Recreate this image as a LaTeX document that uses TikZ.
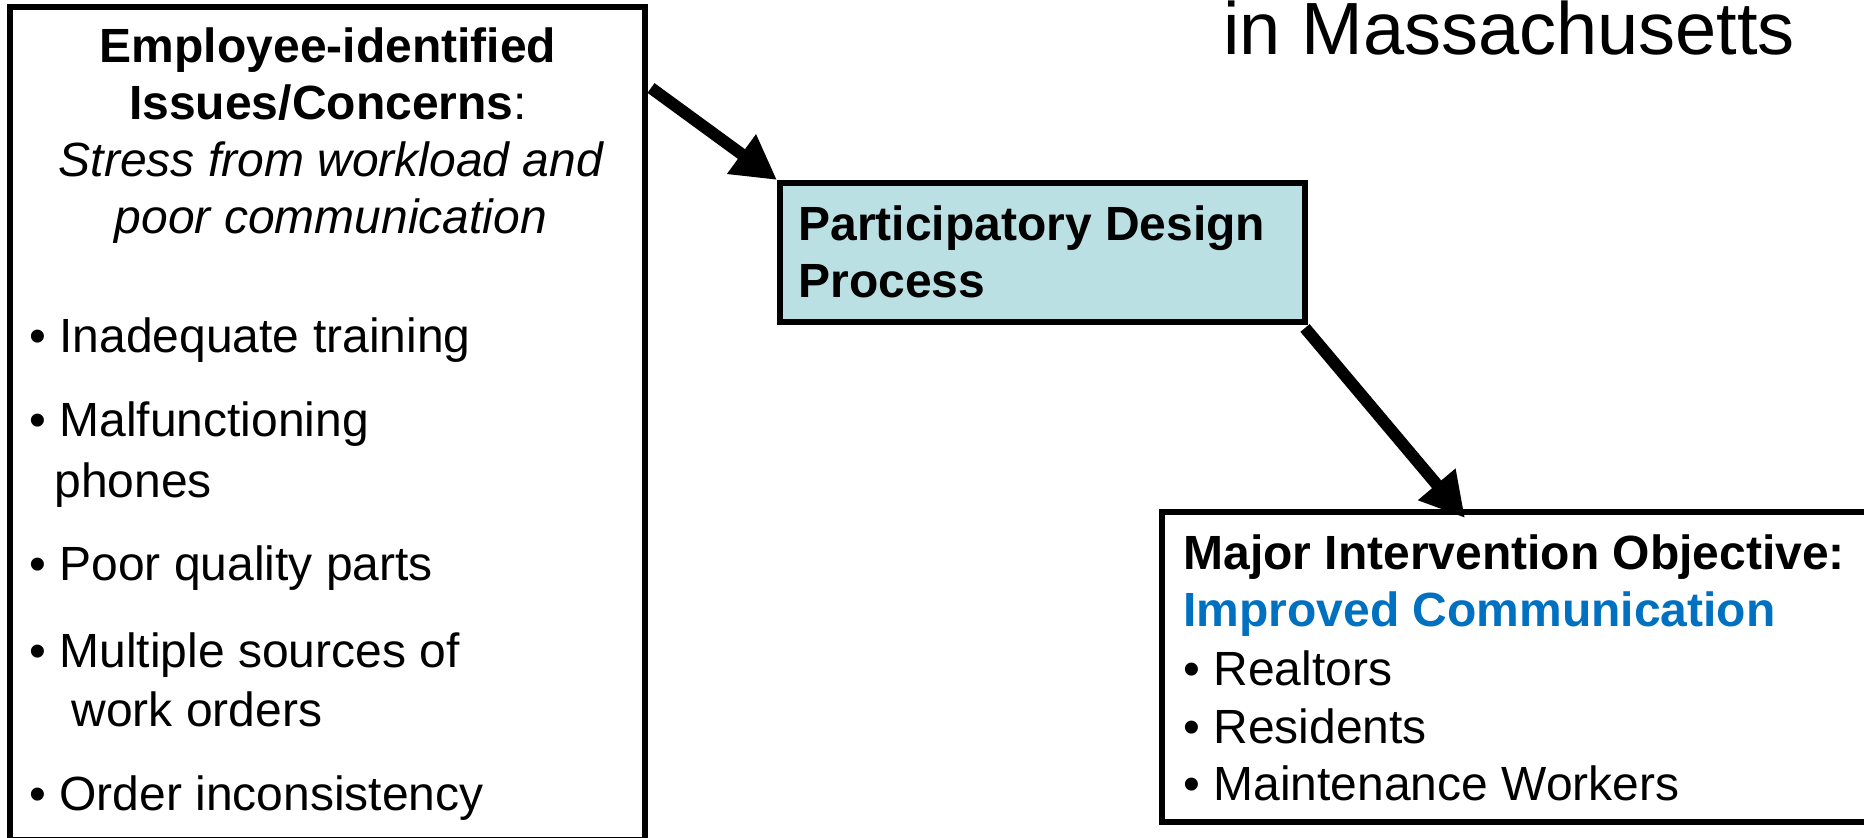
\documentclass[tikz,border=0pt]{standalone}
\usepackage{fontspec}
\setmainfont{Liberation Sans}
\usepackage{xcolor}
\definecolor{stepteal}{HTML}{BBE0E3}
\definecolor{goalblue}{HTML}{0070C0}
\usepackage{tikz}
\usetikzlibrary{arrows.meta, positioning}

\newcommand{\bodysize}{\fontsize{24}{28}\selectfont}

\tikzset{
  panel/.style={draw=black, line width=3pt, anchor=north west, inner sep=0pt},
  ln/.style={anchor=base west, inner sep=0pt, font=\bodysize},
  lnc/.style={ln, anchor=base},
  fat arrow/.style={line width=6pt, -{Triangle[length=22pt, width=23pt]}},
}

\begin{document}
\begin{tikzpicture}[x=0.5pt, y=-0.5pt]
  \useasboundingbox (0,0) rectangle (1864,838);

  % heading at the top edge
  \node[ln, font=\fontsize{37}{44}\selectfont] (title) at (1223,55) {in Massachusetts};

  % left panel: what the staff raised
  \node[panel, minimum width=317.5pt, minimum height=416.5pt] (issues) at (7,4) {};
  \node[lnc, font=\bodysize\bfseries] (hdA) at (328,63) {Employee-identified};
  \node[lnc] (hdB) at (328,120) {\textbf{Issues/Concerns}:};
  \node[lnc, font=\bodysize\itshape] (hdC) at (331,177) {Stress from workload and};
  \node[lnc, font=\bodysize\itshape] (hdD) at (331,234) {poor communication};

  \foreach \y/\t [count=\i] in {353/Inadequate training, 437/Malfunctioning,
      581/Poor quality parts, 668/Multiple sources of, 811/Order inconsistency} {
    \node[ln] (issue\i) at (29,\y) {\textbullet\ \t};
  }
  \node[ln] (issue2b) at (54,498) {phones};
  \node[ln] (issue4b) at (71,727) {work orders};

  % middle step
  \node[panel, fill=stepteal, minimum width=262.5pt, minimum height=69.5pt] (design) at (777,180) {};
  \node[ln, font=\bodysize\bfseries] (dsA) at (798,241) {Participatory Design};
  \node[ln, font=\bodysize\bfseries] (dsB) at (798,298) {Process};

  % right panel: the objective
  \node[panel, minimum width=359pt, minimum height=155pt] (objective) at (1159,509) {};
  \node[ln, font=\bodysize\bfseries] (obA) at (1183,570) {Major Intervention Objective:};
  \node[ln, font=\bodysize\bfseries, text=goalblue] (obB) at (1183,627) {Improved Communication};
  \foreach \y/\t [count=\i] in {686/Realtors, 744/Residents, 801/Maintenance Workers} {
    \node[ln] (group\i) at (1183,\y) {\textbullet\ \t};
  }

  % arrows
  \coordinate (outA) at (651,88);
  \coordinate (outB) at (1305,328);
  \coordinate (inB) at (1465,518);
  \draw[fat arrow] (outA) -- (design.north west);
  \draw[fat arrow] (outB) -- (inB);
\end{tikzpicture}
\end{document}
